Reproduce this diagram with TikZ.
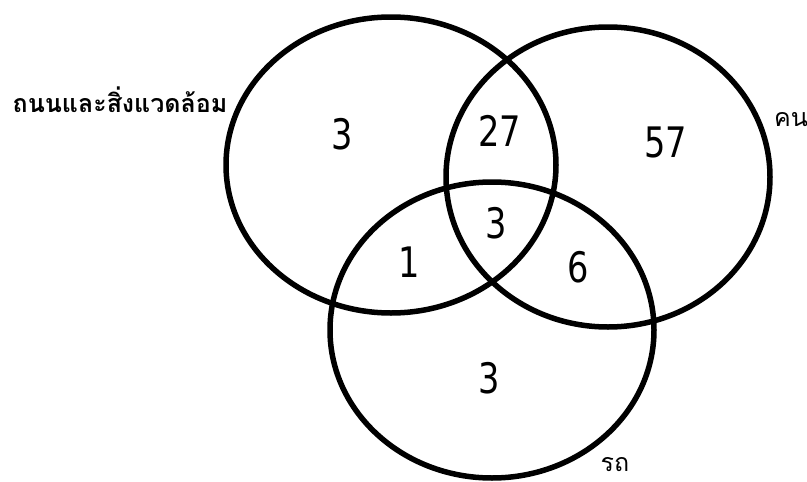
\documentclass[tikz,border=0pt]{standalone}
\usepackage{fontspec}
\newfontfamily\thaifont[Script=Thai]{Loma}
\newfontfamily\numfont[FakeStretch=0.8]{DejaVu Sans}

\begin{document}
\begin{tikzpicture}[x=1pt,y=-1pt,line cap=round,line join=round,
    setline/.style={line width=5.5pt},
    count/.style={font=\numfont\fontsize{42}{42}\selectfont,inner sep=0pt},
    setname/.style={font=\thaifont\fontsize{25}{25}\selectfont,inner sep=0pt}]
        \useasboundingbox (0,0) rectangle (807,482);

        % Conjuntos
        \draw[setline] (391,165) ellipse (165 and 148);
        \draw[setline] (608,177) ellipse (162 and 150);
        \draw[setline] (492,330) ellipse (162 and 148);

        % Nombres de los conjuntos
        \node[setname,font=\thaifont\bfseries\fontsize{25}{25}\selectfont] (road) at (120,100) {ถนนและสิ่งแวดล้อม};
        \node[setname] (people) at (791,120) {คน};
        \node[setname] (car) at (615,465) {รถ};

        % Frecuencias
        \node[count] (onlyroad) at (342,134) {3};
        \node[count] (roadpeople) at (500,131) {27};
        \node[count] (onlypeople) at (666,142) {57};
        \node[count] (allthree) at (496,223) {3};
        \node[count] (roadcar) at (409,262) {1};
        \node[count] (peoplecar) at (578,267) {6};
        \node[count] (onlycar) at (489,378) {3};

    \end{tikzpicture}
\end{document}
